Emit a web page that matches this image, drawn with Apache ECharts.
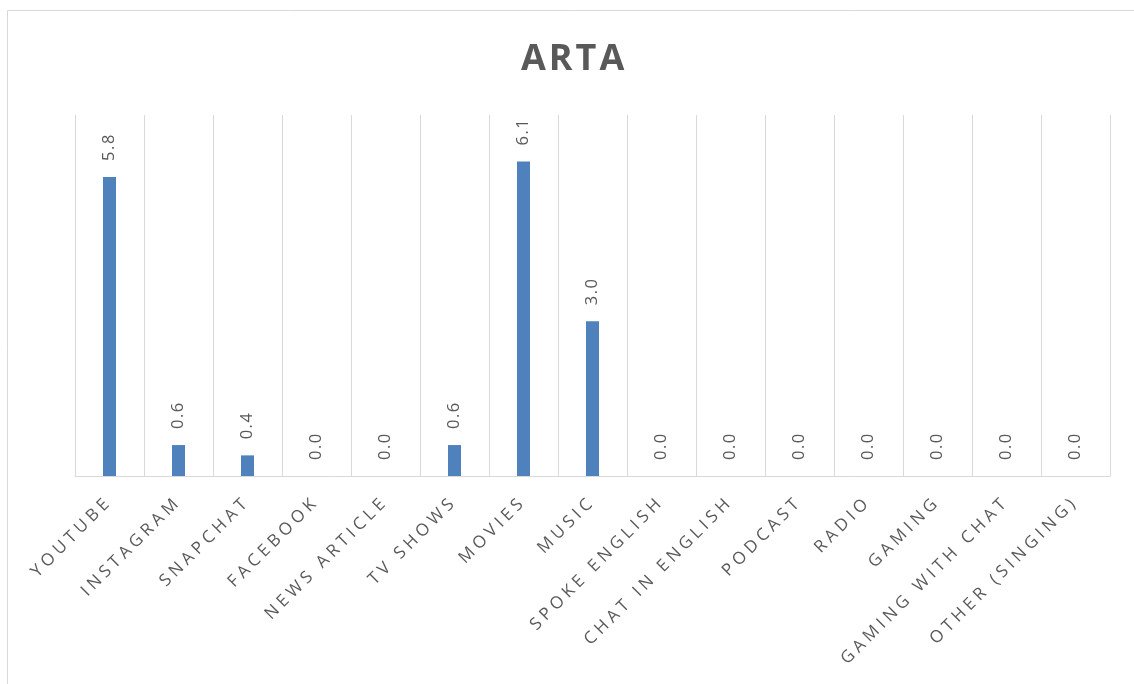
<!DOCTYPE html>
<html>
<head>
<meta charset="utf-8">
<script src="https://cdn.jsdelivr.net/npm/echarts@6/dist/echarts.min.js"></script>
<style>html,body{margin:0;padding:0;background:#fff;}#c{width:1134px;height:684px;}</style>
</head>
<body>
<div id="c"></div>
<script>
var categories = ["YOUTUBE","INSTAGRAM","SNAPCHAT","FACEBOOK","NEWS ARTICLE","TV SHOWS","MOVIES","MUSIC","SPOKE ENGLISH","CHAT IN ENGLISH","PODCAST","RADIO","GAMING","GAMING WITH CHAT","OTHER (SINGING)"];
var values = [5.8,0.6,0.4,0.0,0.0,0.6,6.1,3.0,0.0,0.0,0.0,0.0,0.0,0.0,0.0];
var titleText = "ARTA";

// letter spacing by font size (styling only)
(function () {
  var proto = CanvasRenderingContext2D.prototype;
  var orig = proto.fillText;
  var map = {'17px': '4.2px', '36px': '3px', '16.5px': '1.5px'};
  proto.fillText = function () {
    if ('letterSpacing' in this) {
      var m = /(\d+(?:\.\d+)?px)/.exec(this.font || '');
      this.letterSpacing = (m && map[m[1]]) ? map[m[1]] : '0px';
    }
    return orig.apply(this, arguments);
  };
})();

var chart = echarts.init(document.getElementById('c'));
chart.setOption({
  backgroundColor: '#fff',
  animation: false,
  title: {
    text: titleText, left: 516, top: 37,
    textStyle: {fontFamily: 'Open Sans', fontSize: 36, fontWeight: 'bold', color: '#595959'}
  },
  graphic: [{
    type: 'rect', shape: {x: 7.5, y: 10.5, width: 1400, height: 900},
    style: {fill: 'none', stroke: '#d9d9d9', lineWidth: 1}, silent: true
  }],
  grid: {left: 75, right: 24, top: 115, bottom: 208},
  xAxis: {
    type: 'category', data: categories, boundaryGap: true,
    axisTick: {show: false},
    axisLine: {lineStyle: {color: '#d9d9d9', width: 1}},
    splitLine: {show: true, lineStyle: {color: '#d9d9d9', width: 1}},
    axisLabel: {interval: 0, rotate: 45, margin: 23, color: '#595959', fontFamily: 'Open Sans', fontSize: 17}
  },
  yAxis: {type: 'value', min: 0, max: 7, show: false},
  series: [{
    type: 'bar', data: values, barWidth: 13,
    itemStyle: {color: '#4f81bd'},
    label: {
      show: true, position: 'top', rotate: 90, align: 'left', verticalAlign: 'middle', distance: 16,
      color: '#595959', fontFamily: 'Open Sans', fontSize: 16.5,
      formatter: function (p) { return p.value.toFixed(1); }
    }
  }]
});
</script>
</body>
</html>
